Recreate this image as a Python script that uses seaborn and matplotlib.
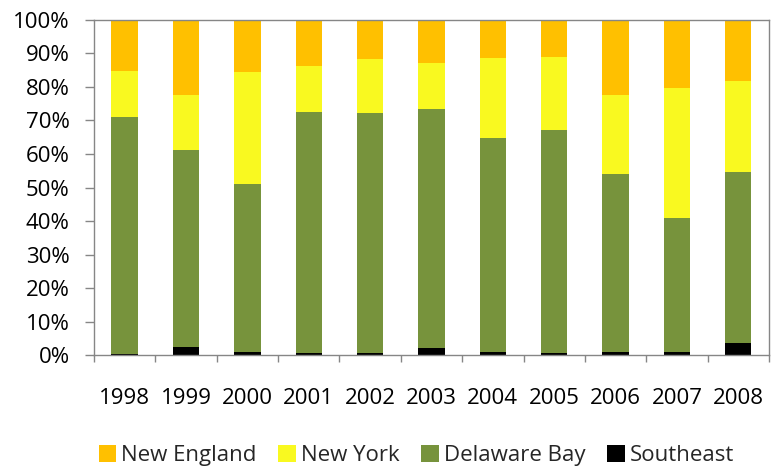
import numpy as np
import pandas as pd
import seaborn as sns
import matplotlib.pyplot as plt
from matplotlib.patches import Patch

# shares per region (%)
years = ['1998', '1999', '2000', '2001', '2002', '2003', '2004', '2005', '2006', '2007', '2008']
southeast = [0.3, 2.5, 1.0, 0.5, 0.7, 2.1, 1.0, 0.6, 1.0, 0.8, 3.7]
delaware_bay = [70.6, 58.6, 50.0, 72.0, 71.5, 71.3, 63.7, 66.7, 53.1, 40.0, 50.8]
new_york = [13.9, 16.6, 33.6, 13.7, 16.3, 13.9, 24.1, 21.8, 23.4, 38.9, 27.3]
new_england = [15.2, 22.3, 15.4, 13.8, 11.5, 12.7, 11.2, 10.9, 22.5, 20.3, 18.2]

df = pd.DataFrame({'year': years, 'Southeast': southeast, 'Delaware Bay': delaware_bay,
                   'New York': new_york, 'New England': new_england})
order = ['Southeast', 'Delaware Bay', 'New York', 'New England']
colors = {'New England': '#FFC000', 'New York': '#F9F920',
          'Delaware Bay': '#77933C', 'Southeast': '#000000'}

# cumulative tops, drawn tallest first so each one sits on the next
cum = df[order].cumsum(axis=1)
cum = cum.div(cum['New England'], axis=0) * 100

sns.set_style('white')
plt.rcParams['font.family'] = ['Open Sans', 'DejaVu Sans']

fig = plt.figure(figsize=(7.78, 4.67), dpi=100)
ax = fig.add_axes([0.1208, 0.2398, 0.8676, 0.7174])

for reg in order[::-1]:
    sns.barplot(x=df['year'], y=cum[reg], color=colors[reg], saturation=1,
                width=0.43, ax=ax, edgecolor='none', linewidth=0)

ax.set_ylim(0, 100)
ax.set_xlim(-0.5, len(years) - 0.5)
ax.set_yticks(np.arange(0, 101, 10))
ax.set_yticklabels([f'{v}%' for v in range(0, 101, 10)])
ax.set_xticks(np.arange(-0.5, len(years), 1), minor=True)
ax.set_xlabel('')
ax.set_ylabel('')

for s in ax.spines.values():
    s.set_color('#868686')
    s.set_linewidth(1)
    s.set_visible(True)

ax.tick_params(axis='y', which='major', direction='out', length=6.5, width=1,
               color='#868686', pad=11, labelsize=16, labelcolor='black', left=True)
ax.tick_params(axis='x', which='major', length=0, pad=24, labelsize=16, labelcolor='black')
ax.tick_params(axis='x', which='minor', direction='out', length=5, width=1,
               color='#868686', bottom=True)

handles = [Patch(facecolor=colors[r], edgecolor='none') for r in order[::-1]]
fig.legend(handles, order[::-1], loc='center', bbox_to_anchor=(0.535, 0.025), ncol=4,
           frameon=False, fontsize=16, handlelength=0.8, handleheight=0.8,
           handletextpad=0.2, columnspacing=1.0, borderaxespad=0)

fig.savefig('out.png', dpi=100)
